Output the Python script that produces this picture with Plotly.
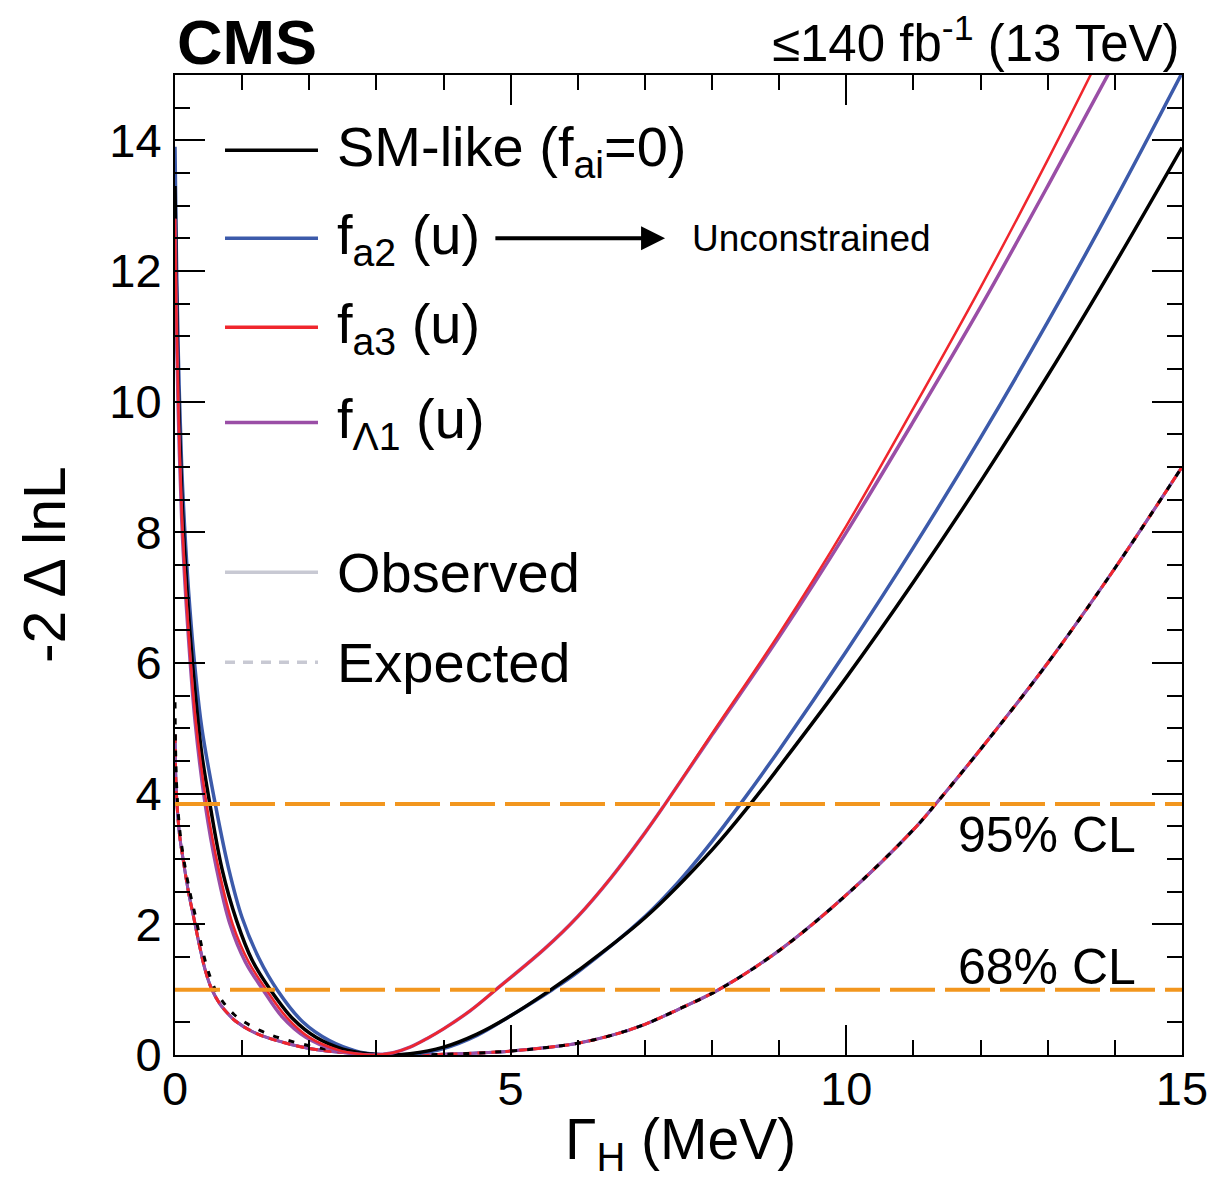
import plotly.graph_objects as go

# ---------------- data ----------------
# Observed scans: -2 Delta lnL vs Gamma_H (MeV)
sm_x = [0, 0.02, 0.05, 0.1, 0.15, 0.22, 0.3, 0.4, 0.52, 0.7, 0.92, 1.15, 1.42, 1.76, 2.1, 2.5, 2.9, 3.15,
        3.5, 4.0, 4.5, 5.0, 5.6, 6.0, 7.0, 8.0, 8.57, 9.0, 10, 11, 12, 13, 14, 15]
sm_y = [13.3, 11.8, 10.2, 8.6, 7.6, 6.5, 5.55, 4.6, 3.84, 2.85, 2.05, 1.45, 1.0, 0.55, 0.27, 0.09, 0.015, 0,
        0.02, 0.12, 0.32, 0.6, 1.0, 1.29, 2.1, 3.14, 3.84, 4.41, 5.78, 7.24, 8.78, 10.40, 12.11, 13.89]

fa2_x = [0, 0.02, 0.05, 0.1, 0.15, 0.22, 0.3, 0.4, 0.6, 0.8, 1.0, 1.25, 1.52, 1.91, 2.3, 2.7, 3.0, 3.2,
         3.5, 4.0, 4.5, 5.0, 5.62, 6.0, 7.0, 7.5, 8.0, 8.42, 9, 10, 11, 12, 13, 14, 15]
fa2_y = [13.9, 12.3, 10.7, 9.0, 7.95, 6.85, 5.9, 5.0, 3.84, 2.85, 2.1, 1.48, 1.0, 0.5, 0.22, 0.06, 0.01, 0,
         0.01, 0.1, 0.3, 0.6, 1.0, 1.27, 2.12, 2.65, 3.27, 3.84, 4.67, 6.18, 7.77, 9.45, 11.22, 13.08, 15.03]

fa3_x = [0, 0.02, 0.05, 0.1, 0.15, 0.2, 0.3, 0.47, 0.65, 0.86, 1.1, 1.36, 1.66, 2.0, 2.45, 2.75, 2.95,
         3.25, 3.5, 3.75, 4.0, 4.4, 4.78, 5.5, 6.0, 6.5, 7.0, 7.3, 8, 9, 10, 11, 12, 13, 14]
fa3_y = [12.8, 11.4, 9.9, 8.3, 7.3, 6.5, 5.2, 3.84, 2.85, 2.0, 1.42, 1.0, 0.58, 0.27, 0.07, 0.015, 0,
         0.035, 0.12, 0.25, 0.4, 0.68, 1.0, 1.62, 2.12, 2.72, 3.4, 3.84, 4.92, 6.45, 8.1, 9.9, 11.75, 13.7, 15.75]

fL1_x = [0, 0.02, 0.05, 0.1, 0.15, 0.2, 0.3, 0.45, 0.62, 0.82, 1.05, 1.31, 1.6, 1.95, 2.4, 2.7, 2.95,
         3.25, 3.5, 3.75, 4.0, 4.4, 4.78, 5.5, 6.0, 6.5, 7.0, 7.3, 8, 9, 10, 11, 12, 13, 14]
fL1_y = [12.8, 11.3, 9.8, 8.2, 7.2, 6.4, 5.1, 3.84, 2.85, 2.0, 1.42, 1.0, 0.58, 0.27, 0.07, 0.015, 0,
         0.035, 0.12, 0.25, 0.4, 0.68, 1.0, 1.62, 2.12, 2.72, 3.4, 3.84, 4.9, 6.4, 8.0, 9.7, 11.45, 13.3, 15.2]

# Expected scans
exp_x = [0, 0.01, 0.03, 0.07, 0.12, 0.2, 0.28, 0.37, 0.45, 0.55, 0.67, 0.8, 0.9, 1.15, 1.42, 2.0, 2.6, 3.4,
         4, 4.5, 5, 5.5, 6, 6.5, 7, 7.5, 8.1, 9, 10, 11, 11.33, 12, 13, 14, 15]
exp_y = [4.9, 4.3, 3.84, 3.35, 3.0, 2.5, 2.1, 1.65, 1.3, 1.0, 0.78, 0.62, 0.52, 0.36, 0.25, 0.1, 0.03, 0,
         0.01, 0.03, 0.06, 0.11, 0.18, 0.3, 0.47, 0.7, 1.0, 1.6, 2.45, 3.45, 3.84, 4.68, 6.0, 7.45, 9.0]
exp_sm_x = [0, 0.01, 0.03, 0.07, 0.13, 0.22, 0.31, 0.4, 0.49, 0.6, 0.74, 0.88, 1.04, 1.3, 1.56, 2.2, 2.8, 3.4,
            4, 4.5, 5, 5.5, 6, 6.5, 7, 7.5, 8.1, 9, 10, 11, 11.33, 12, 13, 14, 15]
exp_sm_y = [5.4, 4.6, 4.0, 3.45, 3.0, 2.5, 2.1, 1.65, 1.3, 1.0, 0.78, 0.62, 0.5, 0.36, 0.26, 0.1, 0.03, 0,
            0.01, 0.03, 0.06, 0.11, 0.18, 0.3, 0.47, 0.7, 1.0, 1.6, 2.45, 3.45, 3.84, 4.68, 6.0, 7.45, 9.0]

cl_levels = [1.0, 3.84]
cl_labels = ["68% CL", "95% CL"]
cl_label_y = [1.35, 3.37]

x_range = [0, 15]
y_range = [0, 15]
x_ticks = [0, 5, 10, 15]
y_ticks = [0, 2, 4, 6, 8, 10, 12, 14]

# ---------------- styles ----------------
FONT = "Liberation Sans, Arial, Helvetica, sans-serif"
BLACK = "#000000"
BLUE = "#3C5AAA"
RED = "#F0262D"
PURPLE = "#9A4EA6"
ORANGE = "#F2961E"
GREY = "#C8C9D3"
SM = 1.0  # spline smoothing

fig = go.Figure()

# expected (dashed) curves
fig.add_trace(go.Scatter(x=exp_x, y=exp_y, mode="lines", line=dict(color=BLUE, width=3, shape="spline", smoothing=SM),
                         showlegend=False, hoverinfo="skip"))
fig.add_trace(go.Scatter(x=exp_x, y=exp_y, mode="lines", line=dict(color=PURPLE, width=3, shape="spline", smoothing=SM),
                         showlegend=False, hoverinfo="skip"))
fig.add_trace(go.Scatter(x=exp_x, y=exp_y, mode="lines",
                         line=dict(color=RED, width=3, dash="8px,6px", shape="spline", smoothing=SM),
                         showlegend=False, hoverinfo="skip"))
fig.add_trace(go.Scatter(x=exp_sm_x, y=exp_sm_y, mode="lines",
                         line=dict(color=BLACK, width=3, dash="6px,10px", shape="spline", smoothing=SM),
                         showlegend=False, hoverinfo="skip"))

# observed curves
for xs, ys, col, w in [(fa2_x, fa2_y, BLUE, 3.5), (sm_x, sm_y, BLACK, 3.5),
                       (fL1_x, fL1_y, PURPLE, 3.5), (fa3_x, fa3_y, RED, 2.5)]:
    fig.add_trace(go.Scatter(x=xs, y=ys, mode="lines",
                             line=dict(color=col, width=w, shape="spline", smoothing=SM),
                             showlegend=False, hoverinfo="skip"))

# CL lines
for lvl, lab, ly in zip(cl_levels, cl_labels, cl_label_y):
    fig.add_hline(y=lvl, line=dict(color=ORANGE, width=4, dash="45px,10px"), layer="above")
    fig.add_annotation(x=14.35, y=ly, xref="x", yref="y", text=lab, showarrow=False,
                       xanchor="right", yanchor="middle", font=dict(family=FONT, size=50, color=BLACK))

# legend (drawn manually)
leg_entries = [
    ("SM-like (f<sub>ai</sub>=0)", BLACK, "solid", 13.85),
    ("f<sub>a2</sub> (u)", BLUE, "solid", 12.5),
    ("f<sub>a3</sub> (u)", RED, "solid", 11.14),
    ("f<sub>Λ1</sub> (u)", PURPLE, "solid", 9.68),
    ("Observed", GREY, "solid", 7.39),
    ("Expected", GREY, "10px,8px", 6.01),
]
for text, col, dash, yy in leg_entries:
    fig.add_shape(type="line", xref="x", yref="y", x0=0.745, x1=2.13, y0=yy, y1=yy,
                  line=dict(color=col, width=3.5, dash=dash))
    fig.add_annotation(x=2.38, y=yy, xref="x", yref="y", text=text, showarrow=False,
                       xanchor="left", yanchor="middle", font=dict(family=FONT, size=56, color=BLACK))

# arrow + "Unconstrained"
fig.add_annotation(x=7.3, y=12.5, ax=4.75, ay=12.5, xref="x", yref="y", axref="x", ayref="y",
                   text="", showarrow=True, arrowhead=2, arrowsize=1.2, arrowwidth=4, arrowcolor=BLACK)
fig.add_annotation(x=7.67, y=12.5, xref="x", yref="y", text="Unconstrained", showarrow=False,
                   xanchor="left", yanchor="middle", font=dict(family=FONT, size=37, color=BLACK))

# header texts
fig.add_annotation(x=0.0, y=1.0337, xref="paper", yref="paper", text="<b>CMS</b>", showarrow=False,
                   xanchor="left", yanchor="middle", font=dict(family=FONT, size=63, color=BLACK))
fig.add_annotation(x=1.0, y=1.036, xref="paper", yref="paper", text="≤140 fb<sup>-1</sup> (13 TeV)",
                   showarrow=False, xanchor="right", yanchor="middle", font=dict(family=FONT, size=51, color=BLACK))

# axis titles
fig.add_annotation(x=-0.129, y=0.5, xref="paper", yref="paper", text="-2 Δ lnL", textangle=-90,
                   showarrow=False, xanchor="center", yanchor="middle", font=dict(family=FONT, size=59, color=BLACK))
fig.add_annotation(x=0.5015, y=-0.09, xref="paper", yref="paper", text="Γ<sub>H</sub> (MeV)",
                   showarrow=False, xanchor="center", yanchor="middle", font=dict(family=FONT, size=57, color=BLACK))

axis_common = dict(showgrid=False, zeroline=False, showline=True, linecolor=BLACK, linewidth=2,
                   mirror="allticks", ticks="inside", ticklen=30, tickwidth=2, tickcolor=BLACK,
                   automargin=False, tickfont=dict(family=FONT, size=47, color=BLACK))
fig.update_xaxes(range=x_range, tickvals=x_ticks, ticklabelstandoff=-8,
                 minor=dict(dtick=1, ticklen=15, ticks="inside", tickwidth=2, tickcolor=BLACK), **axis_common)
fig.update_yaxes(range=y_range, tickvals=y_ticks, ticklabelstandoff=2,
                 minor=dict(dtick=0.5, ticklen=15, ticks="inside", tickwidth=2, tickcolor=BLACK), **axis_common)

# page body has an 8px margin, so the figure is sized/placed to land the plot frame where the reference has it
fig.update_layout(width=1201, height=1173, margin=dict(l=167, r=27, t=67, b=126, autoexpand=False),
                  paper_bgcolor="white", plot_bgcolor="white", showlegend=False,
                  font=dict(family=FONT, color=BLACK))

fig.write_html("out.html")
